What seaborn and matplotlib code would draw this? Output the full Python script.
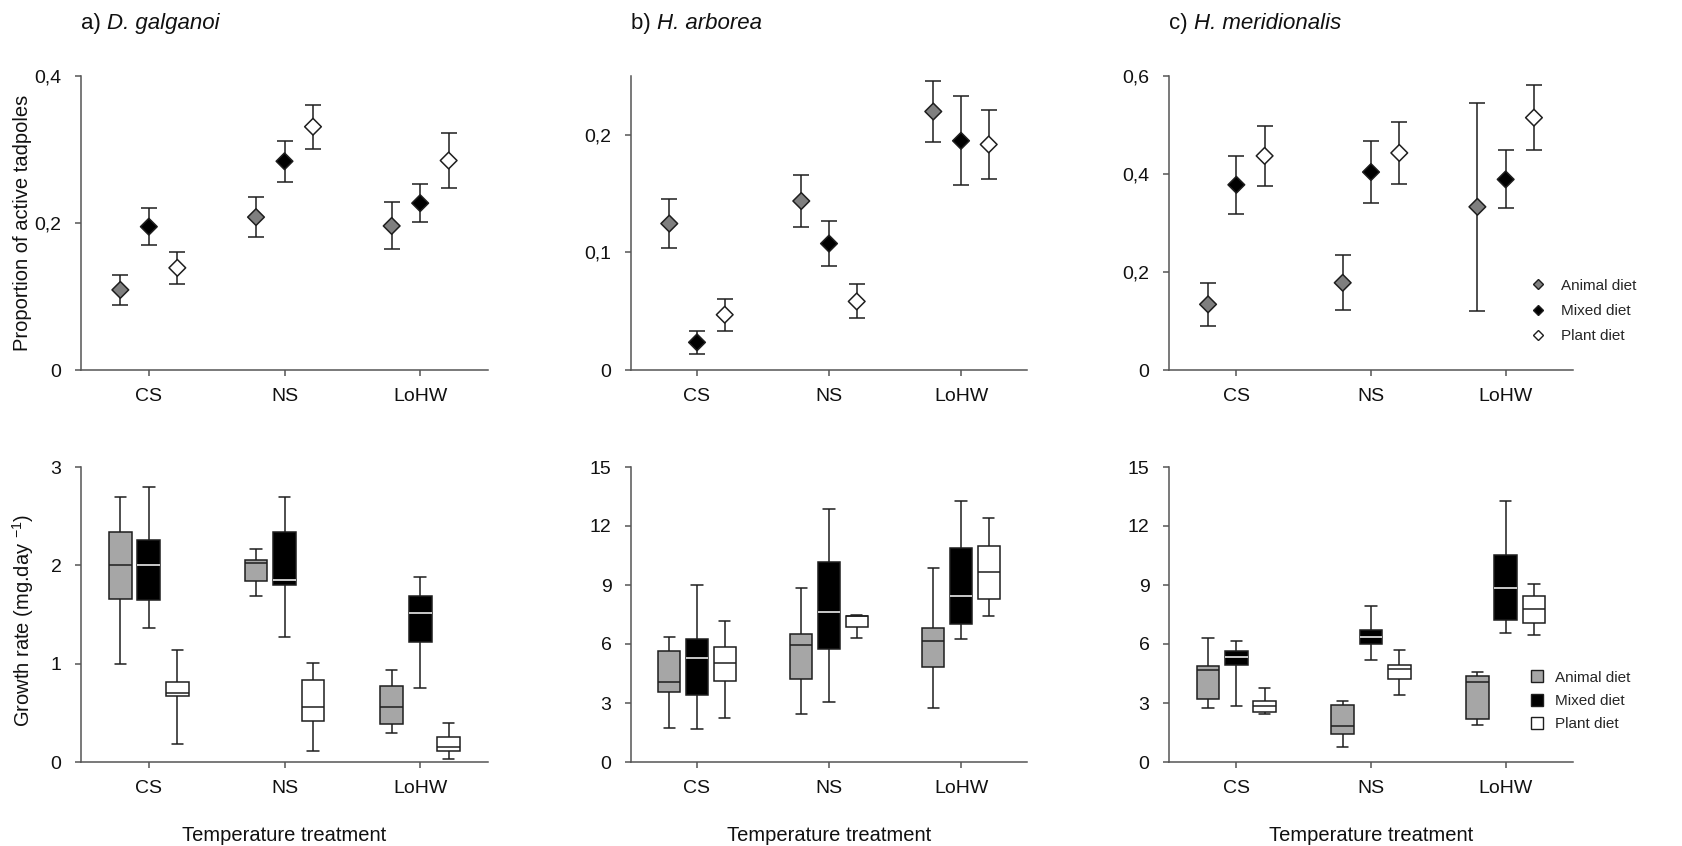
import numpy as np
import pandas as pd
import matplotlib
matplotlib.use("Agg")
import matplotlib.pyplot as plt
from matplotlib.lines import Line2D
import seaborn as sns

# ---------------- data ----------------
temperatures = ["CS", "NS", "LoHW"]
diets = ["Animal diet", "Mixed diet", "Plant diet"]
species = ["D. galganoi", "H. arborea", "H. meridionalis"]
panel_tags = ["a)", "b)", "c)"]

# Proportion of active tadpoles: mean and SE, rows = diet, cols = temperature
dg_active_mean = [[0.109, 0.208, 0.196], [0.195, 0.284, 0.227], [0.139, 0.331, 0.285]]
dg_active_se = [[0.020, 0.027, 0.032], [0.025, 0.028, 0.026], [0.022, 0.030, 0.037]]
ha_active_mean = [[0.1245, 0.1437, 0.2198], [0.0235, 0.1075, 0.1949], [0.047, 0.0583, 0.1918]]
ha_active_se = [[0.021, 0.022, 0.026], [0.010, 0.019, 0.038], [0.0135, 0.0145, 0.029]]
hm_active_mean = [[0.134, 0.178, 0.333], [0.378, 0.404, 0.389], [0.437, 0.443, 0.515]]
hm_active_se = [[0.044, 0.056, 0.212], [0.059, 0.063, 0.059], [0.061, 0.064, 0.066]]

# Growth rate (mg/day): whisker low, Q1, median, Q3, whisker high
dg_growth = {
    "Animal diet": [[1.00, 1.66, 2.00, 2.34, 2.69], [1.69, 1.84, 2.02, 2.05, 2.17], [0.29, 0.39, 0.56, 0.77, 0.94]],
    "Mixed diet": [[1.36, 1.65, 2.00, 2.26, 2.80], [1.27, 1.80, 1.85, 2.34, 2.69], [0.75, 1.22, 1.52, 1.69, 1.88]],
    "Plant diet": [[0.18, 0.67, 0.70, 0.81, 1.14], [0.11, 0.42, 0.56, 0.83, 1.01], [0.03, 0.11, 0.15, 0.25, 0.40]],
}
ha_growth = {
    "Animal diet": [[1.71, 3.54, 4.05, 5.64, 6.36], [2.42, 4.20, 5.95, 6.53, 8.85], [2.73, 4.83, 6.15, 6.81, 9.88]],
    "Mixed diet": [[1.68, 3.42, 5.31, 6.25, 8.98], [3.03, 5.76, 7.63, 10.15, 12.85], [6.24, 7.02, 8.42, 10.90, 13.27]],
    "Plant diet": [[2.25, 4.12, 5.03, 5.85, 7.19], [6.32, 6.86, 7.40, 7.44, 7.49], [7.42, 8.31, 9.66, 11.00, 12.42]],
}
hm_growth = {
    "Animal diet": [[2.73, 3.20, 4.70, 4.88, 6.32], [0.76, 1.44, 1.85, 2.90, 3.10], [1.90, 2.19, 4.07, 4.37, 4.59]],
    "Mixed diet": [[2.85, 4.95, 5.34, 5.63, 6.14], [5.17, 6.02, 6.36, 6.70, 7.92], [6.56, 7.20, 8.86, 10.54, 13.25]],
    "Plant diet": [[2.42, 2.56, 2.85, 3.10, 3.76], [3.39, 4.22, 4.73, 4.95, 5.70], [6.44, 7.09, 7.76, 8.42, 9.07]],
}

active_means = [dg_active_mean, ha_active_mean, hm_active_mean]
active_ses = [dg_active_se, ha_active_se, hm_active_se]
growths = [dg_growth, ha_growth, hm_growth]

active_ylims = [0.4, 0.25, 0.6]
active_yticks = [[0, 0.2, 0.4], [0, 0.1, 0.2], [0, 0.2, 0.4, 0.6]]
active_yticklabels = [["0", "0,2", "0,4"], ["0", "0,1", "0,2"], ["0", "0,2", "0,4", "0,6"]]
growth_ylims = [3, 15, 15]
growth_yticks = [[0, 1, 2, 3], [0, 3, 6, 9, 12, 15], [0, 3, 6, 9, 12, 15]]

# ---------------- style ----------------
sns.set_theme(style="ticks")
plt.rcParams["font.family"] = ["Liberation Sans", "DejaVu Sans"]
plt.rcParams["mathtext.default"] = "regular"

point_colors = {"Animal diet": "#7f7f7f", "Mixed diet": "#000000", "Plant diet": "#ffffff"}
box_colors = {"Animal diet": "#a6a6a6", "Mixed diet": "#000000", "Plant diet": "#ffffff"}
edge = "#1e1e1e"
spine_col = "#555555"
text_col = "#111111"

W, H = 1682, 846
fig = plt.figure(figsize=(W / 100, H / 100), dpi=100)


def axes_px(left, top, right, bottom):
    return fig.add_axes([left / W, 1 - bottom / H, (right - left) / W, (bottom - top) / H])


cols = [(81, 488), (631, 1027), (1169, 1573)]
top_row = (76, 370)
bot_row = (467, 762)

# horizontal dodge of the three diets within each temperature group
offsets = (np.arange(len(diets)) - 1) * 0.21


def style_axes(ax):
    sns.despine(ax=ax)
    for s in ("left", "bottom"):
        ax.spines[s].set_color(spine_col)
        ax.spines[s].set_linewidth(1.1)
    ax.tick_params(axis="both", colors=spine_col, width=1.1, length=4,
                   labelsize=14, labelcolor=text_col)
    ax.tick_params(axis="x", pad=9)
    ax.tick_params(axis="y", pad=10)
    ax.set_xlim(-0.5, 2.5)
    ax.set_xticks(range(len(temperatures)))
    ax.set_xticklabels(temperatures)
    ax.set_xlabel("")
    ax.set_ylabel("")


for k in range(3):
    # ---- activity panels (mean ± SE) ----
    ax = axes_px(cols[k][0], top_row[0], cols[k][1], top_row[1])
    rows = []
    for d, diet in enumerate(diets):
        for t, temp in enumerate(temperatures):
            rows.append({"diet": diet, "temp": temp,
                         "x": t + offsets[d],
                         "mean": active_means[k][d][t],
                         "se": active_ses[k][d][t]})
    adf = pd.DataFrame(rows)
    ax.errorbar(adf["x"], adf["mean"], yerr=adf["se"], fmt="none",
                ecolor=edge, elinewidth=1.1, capsize=5.5, capthick=1.1, zorder=2)
    sns.scatterplot(data=adf, x="x", y="mean", hue="diet", hue_order=diets,
                    palette=point_colors, marker="D", s=72, edgecolor=edge,
                    linewidth=1.1, legend=False, zorder=3, ax=ax)
    style_axes(ax)
    ax.set_ylim(0, active_ylims[k])
    ax.set_yticks(active_yticks[k])
    ax.set_yticklabels(active_yticklabels[k])

    # panel title: tag upright, species name in italics right after it
    tag = fig.text(cols[k][0] / W, 1 - 29 / H, panel_tags[k] + " ", fontsize=16,
                   ha="left", va="baseline", color=text_col)
    ax.annotate(species[k], xy=(1, 0), xycoords=tag, ha="left", va="bottom",
                fontsize=16, style="italic", color=text_col, annotation_clip=False)

    if k == 2:
        handles = [Line2D([], [], marker="D", linestyle="none", markersize=5.5,
                          markerfacecolor=point_colors[d], markeredgecolor=edge,
                          markeredgewidth=1.0) for d in diets]
        ax.legend(handles, diets, loc="center left",
                  bbox_to_anchor=(1530 / W, 1 - 311 / H), bbox_transform=fig.transFigure,
                  frameon=False, fontsize=11, handlelength=1.0, handletextpad=1.0,
                  labelspacing=0.75, borderpad=0, borderaxespad=0)

    # ---- growth panels (box plots) ----
    axb = axes_px(cols[k][0], bot_row[0], cols[k][1], bot_row[1])
    grows = []
    for diet in diets:
        for t, temp in enumerate(temperatures):
            for v in growths[k][diet][t]:
                grows.append({"diet": diet, "temp": temp, "growth": v})
    gdf = pd.DataFrame(grows)
    sns.boxplot(data=gdf, x="temp", y="growth", hue="diet", order=temperatures,
                hue_order=diets, palette=box_colors, whis=(0, 100), width=0.63,
                gap=0.2, linecolor=edge, linewidth=1.1, fliersize=0,
                saturation=1, legend=False, ax=axb)
    for cont, diet in zip(axb.containers, diets):
        if diet == "Mixed diet":
            for ln in cont.medians:
                ln.set_color("white")
    style_axes(axb)
    axb.set_ylim(0, growth_ylims[k])
    axb.set_yticks(growth_yticks[k])
    axb.set_yticklabels([str(v) for v in growth_yticks[k]])

    fig.text((cols[k][0] + cols[k][1]) / 2 / W, 1 - 835 / H, "Temperature treatment",
             fontsize=14.5, ha="center", va="center", color=text_col)

    if k == 2:
        handles = [Line2D([], [], marker="s", linestyle="none", markersize=8.5,
                          markerfacecolor=box_colors[d], markeredgecolor=edge,
                          markeredgewidth=1.0) for d in diets]
        axb.legend(handles, diets, loc="center left",
                   bbox_to_anchor=(1529 / W, 1 - 701 / H), bbox_transform=fig.transFigure,
                   frameon=False, fontsize=11, handlelength=1.0, handletextpad=0.7,
                   labelspacing=0.6, borderpad=0, borderaxespad=0)

fig.text(23 / W, 1 - 223 / H, "Proportion of active tadpoles", rotation=90,
         fontsize=14.5, ha="center", va="center", color=text_col)
fig.text(23 / W, 1 - 620 / H, "Growth rate (mg.day $^{-1}$)", rotation=90,
         fontsize=14.5, ha="center", va="center", color=text_col)

fig.savefig("out.png", dpi=100, facecolor="white")
